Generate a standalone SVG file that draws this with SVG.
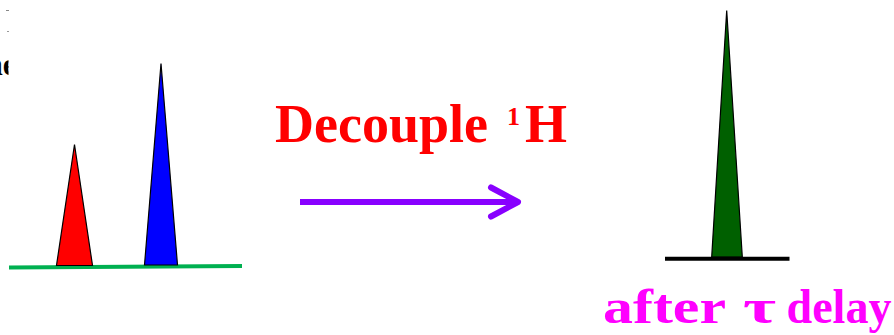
<svg xmlns="http://www.w3.org/2000/svg" width="894" height="335" viewBox="0 0 894 335">
  <defs>
    <clipPath id="leftClip"><rect x="0" y="0" width="8.5" height="335"/></clipPath>
  </defs>
  <style>
    .peak { stroke: #000; stroke-width: 1.2; stroke-linejoin: miter; }
    .serifb { font-family: "Liberation Serif", "Times New Roman", serif; font-weight: bold; }
  </style>
  <rect width="894" height="335" fill="#fff"/>

  <g id="edge-fragments">
    <line x1="6" y1="10.5" x2="9" y2="10.5" stroke="#888" stroke-width="1"/>
    <line x1="7" y1="31.5" x2="9" y2="31.5" stroke="#999" stroke-width="1"/>
    <text class="serifb" x="-15" y="75" font-size="32" fill="#000" clip-path="url(#leftClip)">ne</text>
  </g>

  <g id="spectrum-before">
    <line x1="9" y1="267.5" x2="242" y2="266" stroke="#00B050" stroke-width="4"/>
    <polygon id="peak-red" class="peak" points="74.5,144.5 56.5,265.5 92.5,265.5" fill="#FF0000"/>
    <polygon id="peak-blue" class="peak" points="161,63.5 144.5,265 177.5,265" fill="#0000FF"/>
  </g>

  <g id="label-decouple">
    <text class="serifb" x="275" y="142" font-size="54" fill="#FF0000">Decouple</text>
    <text class="serifb" x="507" y="124.5" font-size="26" fill="#FF0000">1</text>
    <text class="serifb" x="525" y="142" font-size="54" fill="#FF0000">H</text>
  </g>

  <g id="connectors">
    <g id="arrow" stroke="#8800FF" stroke-width="6" fill="none" stroke-linecap="round" stroke-linejoin="round">
      <line x1="300" y1="202" x2="517" y2="202" stroke-linecap="butt"/>
      <polyline points="491,187.5 518,202 491,216.5"/>
    </g>
  </g>

  <g id="spectrum-after">
    <polygon id="peak-green" class="peak" points="726.7,10.5 711.7,257 742.3,257" fill="#006000"/>
    <line x1="665" y1="258.7" x2="789.5" y2="258.7" stroke="#000" stroke-width="4"/>
  </g>

  <g id="label-after">
    <text class="serifb" x="603" y="323" font-size="48" fill="#FF00FF" textLength="123" lengthAdjust="spacingAndGlyphs">after</text>
    <text class="serifb" x="743" y="323" font-size="48" fill="#FF00FF" textLength="33" lengthAdjust="spacingAndGlyphs">τ</text>
    <text class="serifb" x="786.5" y="323" font-size="48" fill="#FF00FF" textLength="105" lengthAdjust="spacingAndGlyphs">delay</text>
  </g>
</svg>
